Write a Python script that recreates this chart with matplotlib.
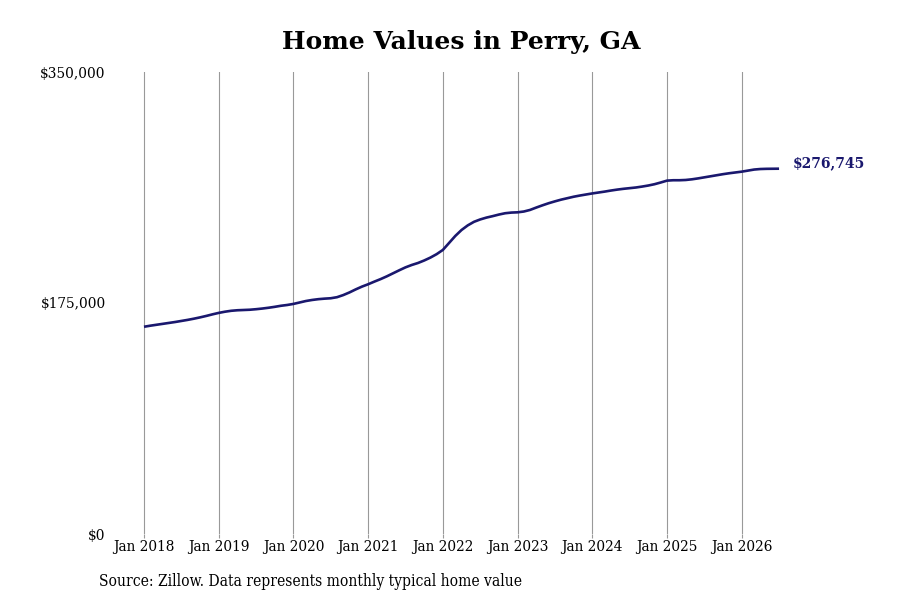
import matplotlib
matplotlib.use("Agg")
import matplotlib.pyplot as plt
import numpy as np

# Monthly typical home values, Jan 2018 .. Jul 2026
values = [
    157000, 157800, 158500, 159200, 159900, 160600, 161400, 162200, 163100, 164100, 165200, 166400,  # 2018
    167500, 168400, 169100, 169500, 169700, 169900, 170300, 170800, 171400, 172100, 172900, 173500,  # 2019
    174300, 175400, 176500, 177300, 177900, 178300, 178600, 179400, 181000, 183000, 185300, 187400,  # 2020
    189200, 191200, 193100, 195200, 197500, 199800, 202000, 203800, 205300, 207200, 209400, 212000,  # 2021
    215200, 220500, 225800, 230300, 233800, 236500, 238300, 239700, 240800, 242000, 243000, 243500,  # 2022
    243700, 244300, 245500, 247300, 249000, 250600, 252000, 253300, 254400, 255500, 256400, 257200,  # 2023
    258000, 258700, 259400, 260200, 260900, 261500, 262000, 262500, 263200, 264000, 265000, 266300,  # 2024
    267700, 268000, 268000, 268200, 268700, 269400, 270200, 271000, 271800, 272600, 273300, 273900,  # 2025
    274500, 275300, 276100, 276500, 276650, 276700, 276745,                                          # 2026
]
start_year = 2018
tick_years = list(range(2018, 2027))
tick_labels = [f"Jan {y}" for y in tick_years]
y_ticks = [0, 175000, 350000]
y_tick_labels = ["$0", "$175,000", "$350,000"]
title = "Home Values in Perry, GA"
source = "Source: Zillow. Data represents monthly typical home value"
last_label = "$276,745"

x = start_year + np.arange(len(values)) / 12.0

fig = plt.figure(figsize=(9, 6), dpi=100)
L, R, T, B = 110, 790, 72, 534
ax = fig.add_axes([L / 900, 1 - B / 600, (R - L) / 900, (B - T) / 600])

px_per_year = (741.7 - 144.0) / 8
x0 = 2018 - (144 - L) / px_per_year
x1 = 2018 + (R - 144) / px_per_year
ax.set_xlim(x0, x1)
ax.set_ylim(0, 350000)

line_color = "#1a186e"
ax.plot(x, values, color=line_color, lw=1.9, solid_capstyle="butt", zorder=3)

ax.set_xticks(tick_years)
ax.set_xticklabels(tick_labels, fontfamily="DejaVu Serif", fontstretch="condensed", fontsize=11)
ax.set_yticks(y_ticks)
ax.set_yticklabels(y_tick_labels, fontfamily="DejaVu Serif", fontstretch="condensed", fontsize=11)
ax.tick_params(axis="x", length=3, color="#999999", width=0.8, pad=1)
ax.tick_params(axis="y", length=0, pad=3)
ax.grid(axis="x", color="#999999", lw=0.8)
ax.grid(axis="y", visible=False)
for s in ax.spines.values():
    s.set_visible(False)

ax.annotate(last_label, xy=(x[-1], values[-1]), xytext=(10, 4), textcoords="offset points",
            ha="left", va="center", color=line_color, fontfamily="DejaVu Serif",
            fontweight="bold", fontsize=10)

fig.text(461 / 900, 1 - 42 / 600, title, ha="center", va="center",
         fontfamily="DejaVu Serif", fontweight="bold", fontsize=18)
fig.text(99 / 900, 1 - 581 / 600, source, ha="left", va="center",
         fontfamily="DejaVu Serif", fontstretch="condensed", fontsize=11.2)

fig.savefig("out.png", dpi=100)
